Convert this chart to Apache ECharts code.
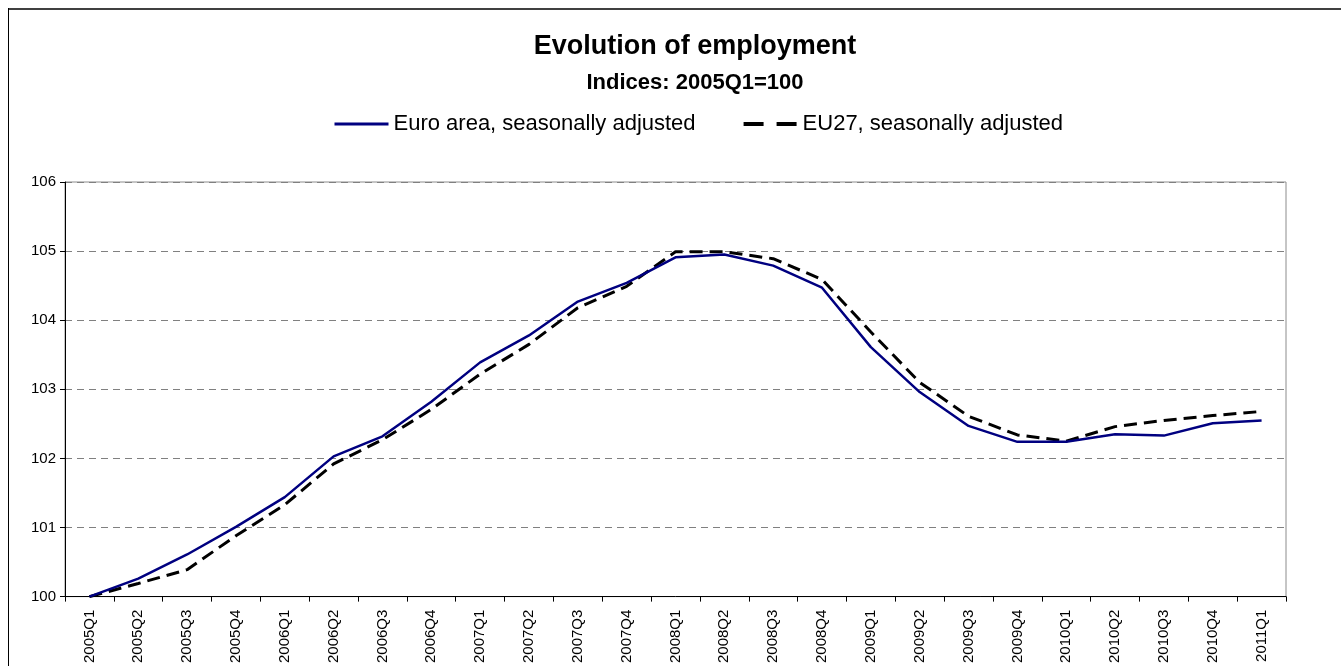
<!DOCTYPE html>
<html>
<head>
<meta charset="utf-8">
<script src="https://cdn.jsdelivr.net/npm/echarts@6/dist/echarts.min.js"></script>
<style>
  html, body { margin: 0; padding: 0; background: #fff; }
  #chart { width: 1341px; height: 666px; }
</style>
</head>
<body>
<div id="chart"></div>
<script>
// quarters on the x axis
var quarters = [
  "2005Q1", "2005Q2", "2005Q3", "2005Q4",
  "2006Q1", "2006Q2", "2006Q3", "2006Q4",
  "2007Q1", "2007Q2", "2007Q3", "2007Q4",
  "2008Q1", "2008Q2", "2008Q3", "2008Q4",
  "2009Q1", "2009Q2", "2009Q3", "2009Q4",
  "2010Q1", "2010Q2", "2010Q3", "2010Q4",
  "2011Q1"
];
// index values, 2005Q1 = 100
var euroArea = [
  100.00, 100.26, 100.61, 101.01,
  101.44, 102.03, 102.32, 102.82,
  103.39, 103.78, 104.27, 104.54,
  104.91, 104.95, 104.79, 104.47,
  103.61, 102.96, 102.47, 102.24,
  102.24, 102.35, 102.33, 102.51,
  102.55
];
var eu27 = [
  100.00, 100.19, 100.39, 100.88,
  101.33, 101.92, 102.27, 102.71,
  103.22, 103.65, 104.18, 104.49,
  104.99, 104.99, 104.89, 104.59,
  103.83, 103.10, 102.61, 102.34,
  102.25, 102.46, 102.55, 102.62,
  102.68
];
var yTicks = [100, 101, 102, 103, 104, 105, 106];

var font = '"Liberation Sans", Arial, sans-serif';
var hidden = { color: "rgba(0,0,0,0)", borderColor: "rgba(0,0,0,0)", opacity: 0 };

var myChart = echarts.init(document.getElementById("chart"), null, { renderer: "canvas" });
myChart.setOption({
  animation: false,
  backgroundColor: "#fff",
  title: [
    {
      text: "Evolution of employment",
      left: 690,
      top: 28,
      textAlign: "center",
      textStyle: { fontFamily: font, fontSize: 27, fontWeight: "bold", color: "#000" }
    },
    {
      text: "Indices: 2005Q1=100",
      left: 690,
      top: 67,
      textAlign: "center",
      textStyle: { fontFamily: font, fontSize: 22, fontWeight: "bold", color: "#000" }
    }
  ],
  legend: {
    left: 328,
    top: 108,
    itemWidth: 54,
    itemHeight: 24,
    itemGap: 46,
    textStyle: { fontFamily: font, fontSize: 22, color: "#000" },
    data: [
      {
        name: "Euro area, seasonally adjusted",
        itemStyle: hidden,
        lineStyle: { color: "#000080", width: 3 }
      },
      {
        name: "EU27, seasonally adjusted",
        itemStyle: hidden,
        lineStyle: { color: "#000", width: 4, type: [20, 13] }
      }
    ]
  },
  grid: {
    left: 65,
    right: 55,
    top: 182,
    bottom: 68,
    show: true,
    borderColor: "#8c8c8c",
    borderWidth: 1
  },
  xAxis: {
    type: "category",
    data: quarters,
    boundaryGap: true,
    axisLine: { show: true, lineStyle: { color: "#000", width: 1 } },
    axisTick: { show: true, length: 5, lineStyle: { color: "#000" } },
    axisLabel: {
      rotate: 90,
      interval: 0,
      margin: 13,
      fontFamily: font,
      fontSize: 15,
      color: "#000"
    },
    splitLine: { show: false }
  },
  yAxis: {
    type: "value",
    min: yTicks[0],
    max: yTicks[yTicks.length - 1],
    interval: 1,
    axisLine: { show: true, lineStyle: { color: "#000", width: 1 } },
    axisTick: { show: true, length: 5, lineStyle: { color: "#000" } },
    axisLabel: { margin: 9, fontFamily: font, fontSize: 15, color: "#000" },
    splitLine: { show: true, lineStyle: { color: "#808080", width: 1, type: [7, 5] } }
  },
  series: [
    {
      name: "Euro area, seasonally adjusted",
      type: "line",
      data: euroArea,
      symbol: "none",
      z: 3,
      lineStyle: { color: "#000080", width: 2.5 },
      itemStyle: { color: "#000080" }
    },
    {
      name: "EU27, seasonally adjusted",
      type: "line",
      data: eu27,
      symbol: "none",
      z: 2,
      lineStyle: { color: "#000", width: 3, type: [13, 7] },
      itemStyle: { color: "#000" }
    }
  ],
  graphic: [
    {
      type: "line",
      shape: { x1: 8, y1: 9, x2: 1341, y2: 9 },
      style: { stroke: "#404040", lineWidth: 2 },
      silent: true
    },
    {
      type: "line",
      shape: { x1: 8.5, y1: 8, x2: 8.5, y2: 666 },
      style: { stroke: "#000", lineWidth: 1 },
      silent: true
    }
  ]
});
</script>
</body>
</html>
